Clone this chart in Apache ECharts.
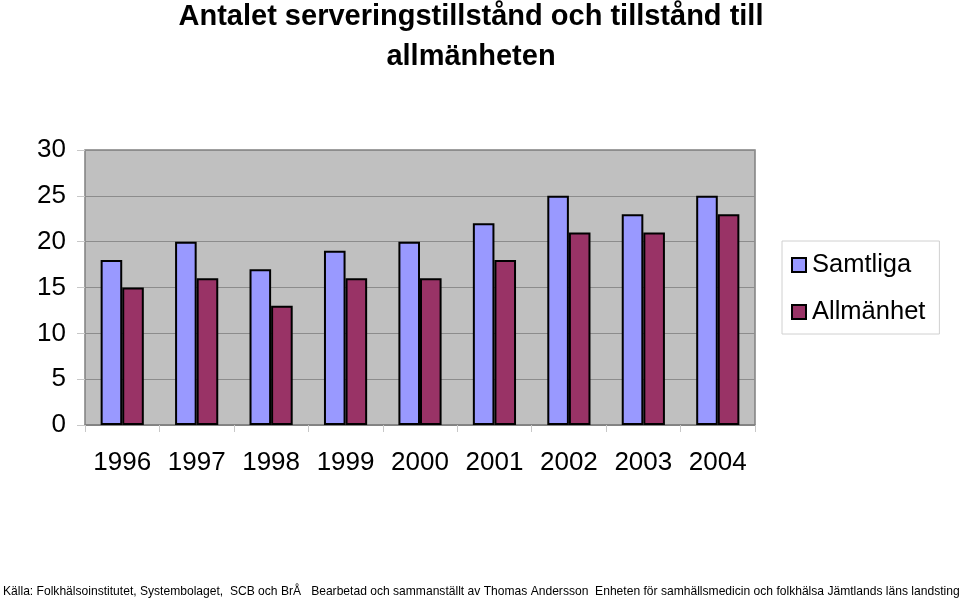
<!DOCTYPE html>
<html><head><meta charset="utf-8">
<script src="https://cdn.jsdelivr.net/npm/echarts@6/dist/echarts.min.js"></script>
<style>html,body{margin:0;padding:0;background:#fff}#c{width:960px;height:603px}</style>
</head><body><div id="c"></div>
<script>
const categories = ['1996','1997','1998','1999','2000','2001','2002','2003','2004'];
const samtliga = [18, 20, 17, 19, 20, 22, 25, 23, 25];
const allmanhet = [15, 16, 13, 16, 16, 18, 21, 21, 23];
const yTicks = [0, 5, 10, 15, 20, 25, 30];
const font = 'Liberation Sans, Arial, sans-serif';
const chart = echarts.init(document.getElementById('c'));
chart.setOption({
  animation: false,
  backgroundColor: '#fff',
  title: [{
    text: 'Antalet serveringstillstånd och tillstånd till\nallmänheten',
    left: 466, top: -8, textAlign: 'center',
    textStyle: {fontFamily: font, fontSize: 29, fontWeight: 'bold', color: '#000', lineHeight: 40}
  }, {
    text: 'Källa: Folkhälsoinstitutet, Systembolaget,  SCB och BrÅ   Bearbetad och sammanställt av Thomas Andersson  Enheten för samhällsmedicin och folkhälsa Jämtlands läns landsting',
    left: 3, top: 586, padding: 0,
    textStyle: {fontFamily: font, fontSize: 12.08, fontWeight: 'normal', color: '#000'}
  }],
  legend: {
    orient: 'vertical', left: 782, top: 241,
    data: ['Samtliga', 'Allmänhet'],
    itemWidth: 14, itemHeight: 14, itemGap: 21,
    padding: [11, 14, 9, 9],
    borderColor: '#d0d0d0', borderWidth: 1,
    textStyle: {fontFamily: font, fontSize: 25.5, color: '#000', padding: [0,0,0,1]},
    icon: 'rect'
  },
  grid: {
    left: 85, top: 150, width: 670, height: 275,
    show: true, backgroundColor: '#c0c0c0', borderColor: '#808080', borderWidth: 1.5
  },
  xAxis: {
    type: 'category', data: categories,
    axisLine: {show: true, lineStyle: {color: '#808080', width: 1.5}},
    axisTick: {show: true, length: 7, lineStyle: {color: '#c8c8c8'}},
    axisLabel: {fontFamily: font, fontSize: 26, color: '#000', margin: 25, interval: 0}
  },
  yAxis: {
    type: 'value', min: 0, max: 30, interval: 5,
    axisLine: {show: false},
    axisTick: {show: true, length: 8, lineStyle: {color: '#c8c8c8'}},
    splitLine: {show: true, lineStyle: {color: '#8c8c8c', width: 1}},
    axisLabel: {fontFamily: font, fontSize: 26, color: '#000', margin: 19,
      formatter: v => yTicks.includes(v) ? String(v) : ''}
  },
  series: [{
    name: 'Samtliga', type: 'bar', data: samtliga, barGap: '0%', barCategoryGap: '42%',
    itemStyle: {color: '#9999ff', borderColor: '#000', borderWidth: 2}
  }, {
    name: 'Allmänhet', type: 'bar', data: allmanhet,
    itemStyle: {color: '#993366', borderColor: '#000', borderWidth: 2}
  }]
});
</script></body></html>
